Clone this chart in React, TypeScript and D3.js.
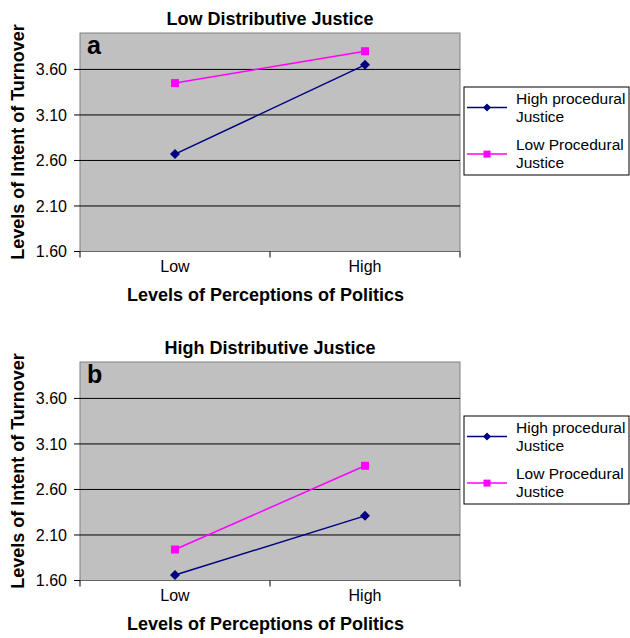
import React from "react";
import * as d3 from "d3";

const categories = ["Low", "High"];
const yTicks = [1.6, 2.1, 2.6, 3.1, 3.6];
const seriesNames = ["High procedural Justice", "Low Procedural Justice"];
const panelTitles = ["Low Distributive Justice", "High Distributive Justice"];
const panelLetters = ["a", "b"];
const highProcA = [2.67, 3.65];
const lowProcA = [3.45, 3.8];
const highProcB = [1.66, 2.31];
const lowProcB = [1.94, 2.86];

const colors = ["#000080", "#FF00FF"];
const FONT = "'Liberation Sans', Arial, sans-serif";

function Panel({ top, title, letter, series }: { top: number; title: string; letter: string; series: number[][] }) {
  const left = 80, right = 460;
  const plotTop = top + 33, plotBottom = top + 251.5;
  const x = d3.scaleBand<string>().domain(categories).range([left, right]);
  const y = d3.scaleLinear().domain([1.6, 4.0]).range([plotBottom, plotTop]);
  const line = d3.line<number>().x((_, i) => x(categories[i])! + x.bandwidth() / 2).y((d) => y(d));
  const legTop = top + 87;
  return (
    <g fontFamily={FONT}>
      <text x={270} y={top + 25} textAnchor="middle" fontWeight="bold" fontSize={18}>{title}</text>
      <rect x={left} y={plotTop} width={right - left} height={plotBottom - plotTop} fill="#C0C0C0" stroke="#808080" strokeWidth={1} />
      {yTicks.map((t) => (
        <g key={t}>
          <line x1={left} x2={right} y1={y(t)} y2={y(t)} stroke="#000" strokeWidth={1} />
          <line x1={74} x2={left} y1={y(t)} y2={y(t)} stroke="#000" strokeWidth={1} />
          <text x={67} y={y(t)} dy="0.36em" textAnchor="end" fontSize={16}>{t.toFixed(2)}</text>
        </g>
      ))}
      <line x1={left} x2={right} y1={plotBottom} y2={plotBottom} stroke="#666" strokeWidth={1.2} />
      {[left, (left + right) / 2, right].map((tx) => (
        <line key={tx} x1={tx} x2={tx} y1={plotBottom} y2={plotBottom + 6} stroke="#000" strokeWidth={1} />
      ))}
      {categories.map((c) => (
        <text key={c} x={x(c)! + x.bandwidth() / 2} y={top + 272} textAnchor="middle" fontSize={16}>{c}</text>
      ))}
      <text x={87} y={top + 54} fontWeight="bold" fontSize={25}>{letter}</text>
      {series.map((vals, si) => (
        <g key={si}>
          <path d={line(vals)!} fill="none" stroke={colors[si]} strokeWidth={1.5} />
          {vals.map((v, i) => {
            const cx = x(categories[i])! + x.bandwidth() / 2;
            const cy = y(v);
            return si === 0 ? (
              <path key={i} d={`M${cx},${cy - 5}L${cx + 5},${cy}L${cx},${cy + 5}L${cx - 5},${cy}Z`} fill={colors[si]} />
            ) : (
              <rect key={i} x={cx - 4} y={cy - 4} width={8} height={8} fill={colors[si]} />
            );
          })}
        </g>
      ))}
      <text transform={`translate(23.5,${top + 142}) rotate(-90)`} textAnchor="middle" fontWeight="bold" fontSize={18}>Levels of Intent of Turnover</text>
      <text x={265.5} y={top + 300.5} textAnchor="middle" fontWeight="bold" fontSize={18}>Levels of Perceptions of Politics</text>
      <rect x={464} y={legTop} width={165} height={88} fill="#fff" stroke="#000" strokeWidth={1} />
      {seriesNames.map((name, si) => {
        const ly = legTop + 20.5 + si * 46.6;
        const words = name.split(" ");
        const l1 = words.slice(0, 2).join(" ");
        const l2 = words.slice(2).join(" ");
        return (
          <g key={name}>
            <line x1={467} x2={507} y1={ly} y2={ly} stroke={colors[si]} strokeWidth={1.5} />
            {si === 0 ? (
              <path d={`M487,${ly - 4}L491,${ly}L487,${ly + 4}L483,${ly}Z`} fill={colors[si]} />
            ) : (
              <rect x={483.5} y={ly - 3.5} width={7} height={7} fill={colors[si]} />
            )}
            <text x={516} y={ly - 4} fontSize={15.5}>{l1}</text>
            <text x={516} y={ly + 14} fontSize={15.5}>{l2}</text>
          </g>
        );
      })}
    </g>
  );
}

export default function App() {
  return (
    <svg width={630} height={638} style={{ position: "absolute", left: 0, top: 0, background: "#fff" }}>
      <Panel top={0} title={panelTitles[0]} letter={panelLetters[0]} series={[highProcA, lowProcA]} />
      <Panel top={329} title={panelTitles[1]} letter={panelLetters[1]} series={[highProcB, lowProcB]} />
    </svg>
  );
}
